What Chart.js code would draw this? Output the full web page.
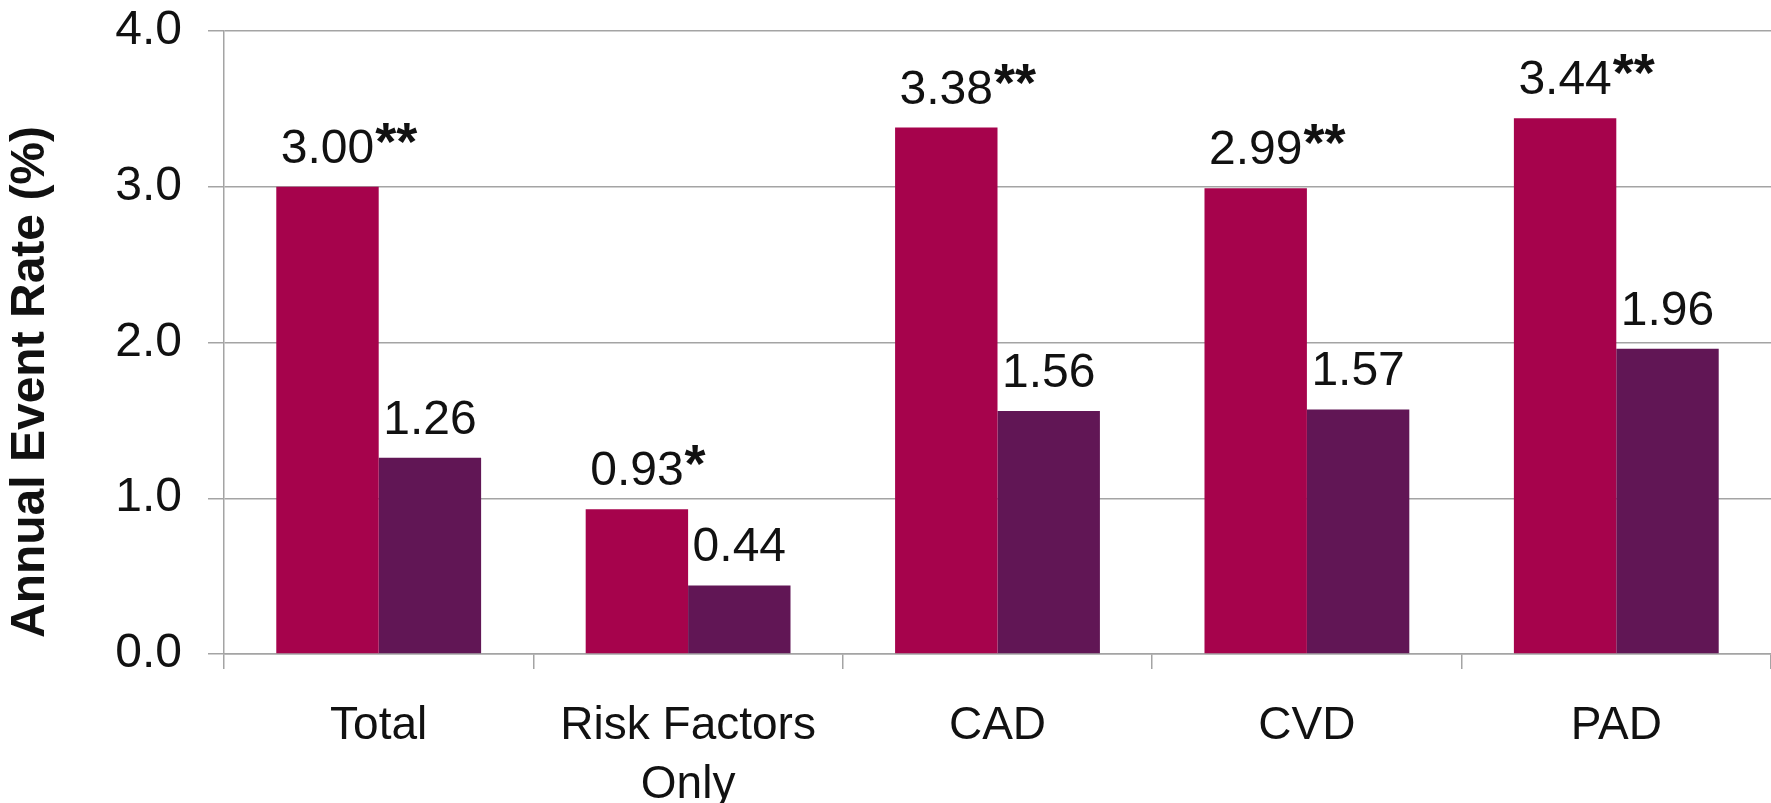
<!DOCTYPE html>
<html>
<head>
<meta charset="utf-8">
<script src="https://cdn.jsdelivr.net/npm/chart.js@4.4.1/dist/chart.umd.min.js"></script>
<style>
    html, body { margin: 0; padding: 0; background: #ffffff; overflow: hidden; }
    #grafico { display: block; }
</style>
</head>
<body>
<canvas id="grafico" width="1771" height="803"></canvas>
<script>
// Datos
const categorias = ['Total', ['Risk Factors', 'Only'], 'CAD', 'CVD', 'PAD'];
const tasaSerie1 = [3.00, 0.93, 3.38, 2.99, 3.44];
const tasaSerie2 = [1.26, 0.44, 1.56, 1.57, 1.96];
const marcasSerie1 = ['**', '*', '**', '**', '**'];
const marcasSerie2 = ['', '', '', '', ''];
const ticksY = [0, 1, 2, 3, 4];
const tituloY = 'Annual Event Rate (%)';

const FUENTE = "'Liberation Sans', Arial, Helvetica, sans-serif";
const GRIS = '#a4a4a4';

// Etiquetas de valor sobre cada barra, con asteriscos en negrita
const etiquetasValor = {
    id: 'etiquetasValor',
    afterDatasetsDraw(chart) {
        const ctx = chart.ctx;
        const marcas = [marcasSerie1, marcasSerie2];
        ctx.save();
        chart.data.datasets.forEach((ds, i) => {
            const meta = chart.getDatasetMeta(i);
            meta.data.forEach((bar, j) => {
                const texto = ds.data[j].toFixed(2);
                const base = bar.y - 24;
                ctx.font = '48px ' + FUENTE;
                ctx.fillStyle = '#111111';
                ctx.textAlign = 'center';
                ctx.textBaseline = 'alphabetic';
                ctx.fillText(texto, bar.x, base);
                const ancho = ctx.measureText(texto).width;
                if (marcas[i][j]) {
                    ctx.font = 'bold 54px ' + FUENTE;
                    ctx.textAlign = 'left';
                    ctx.fillText(marcas[i][j], bar.x + ancho / 2 + 1, base - 3);
                }
            });
        });
        ctx.restore();
    }
};

// Titulo del eje Y
const tituloEjeY = {
    id: 'tituloEjeY',
    afterDraw(chart) {
        const ctx = chart.ctx;
        ctx.save();
        ctx.translate(31, 382);
        ctx.rotate(-Math.PI / 2);
        ctx.font = 'bold 48px ' + FUENTE;
        ctx.fillStyle = '#111111';
        ctx.textAlign = 'center';
        ctx.textBaseline = 'middle';
        ctx.fillText(tituloY, 0, 0);
        ctx.restore();
    }
};

function renderizarGrafico() {
    const ctx = document.getElementById('grafico').getContext('2d');
    new Chart(ctx, {
        type: 'bar',
        data: {
            labels: categorias,
            datasets: [
                {
                    label: 'Serie 1',
                    data: tasaSerie1,
                    backgroundColor: '#a6034c',
                    borderWidth: 0,
                    categoryPercentage: 0.662,
                    barPercentage: 1.0
                },
                {
                    label: 'Serie 2',
                    data: tasaSerie2,
                    backgroundColor: '#611655',
                    borderWidth: 0,
                    categoryPercentage: 0.662,
                    barPercentage: 1.0
                }
            ]
        },
        options: {
            responsive: false,
            animation: false,
            layout: { padding: { top: 31, right: 0, bottom: 0, left: 0 } },
            plugins: {
                legend: { display: false },
                tooltip: { enabled: false }
            },
            scales: {
                x: {
                    grid: {
                        offset: true,
                        drawOnChartArea: false,
                        drawTicks: true,
                        tickLength: 15,
                        color: GRIS,
                        lineWidth: 1.5
                    },
                    border: { display: true, color: GRIS, width: 1.5 },
                    ticks: {
                        color: '#111111',
                        padding: 27,
                        font: { family: FUENTE, size: 46, lineHeight: 1.3 },
                        maxRotation: 0,
                        autoSkip: false
                    },
                    afterFit(scale) {
                        scale.height = 149;
                        scale.paddingLeft = 0;
                        scale.paddingRight = 0;
                    }
                },
                y: {
                    min: 0,
                    max: 4,
                    afterBuildTicks(scale) {
                        scale.ticks = ticksY.map(v => ({ value: v }));
                    },
                    grid: {
                        color: GRIS,
                        lineWidth: 1.5,
                        tickLength: 16
                    },
                    border: { display: true, color: GRIS, width: 1.5 },
                    ticks: {
                        color: '#111111',
                        padding: 26,
                        font: { family: FUENTE, size: 48 },
                        callback: v => Number(v).toFixed(1)
                    },
                    afterFit(scale) {
                        scale.width = 224;
                        scale.paddingTop = 0;
                        scale.paddingBottom = 0;
                    }
                }
            }
        },
        plugins: [etiquetasValor, tituloEjeY]
    });
}

renderizarGrafico();
</script>
</body>
</html>
